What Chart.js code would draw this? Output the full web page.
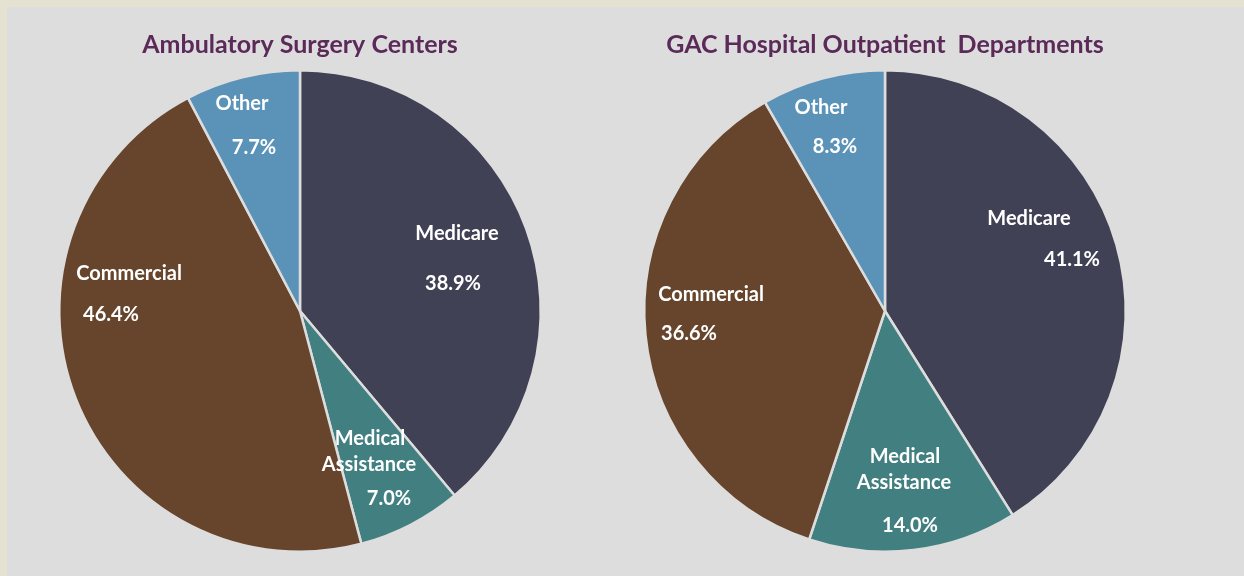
<!DOCTYPE html>
<html>
<head>
<meta charset="utf-8">
<script src="https://cdn.jsdelivr.net/npm/chart.js@4.4.1/dist/chart.umd.min.js"></script>
<style>
  html, body { margin: 0; padding: 0; background: #e5e2d1; }
  #panel { position: absolute; left: 7px; top: 7px; width: 1237px; height: 569px; background: #dddddd; }
  .box { position: absolute; top: 7px; height: 569px; }
</style>
</head>
<body>
<div id="panel"></div>
<div class="box" style="left:7px;width:586px"><canvas id="ascChart"></canvas></div>
<div class="box" style="left:593px;width:584px"><canvas id="gacChart"></canvas></div>
<script>
// payer mix, percent of total
const categories = ['Medicare', 'Medical Assistance', 'Commercial', 'Other'];
const ascValues = [38.9, 7.0, 46.4, 7.7];
const gacValues = [41.1, 14.0, 36.6, 8.3];
const titles = ['Ambulatory Surgery Centers', 'GAC Hospital Outpatient  Departments'];

const colors = ['#414155', '#417f80', '#67452c', '#5b93b8'];

// label placement relative to pie centre (name lines, then value)
const ascLabelPos = [
    { name: [157, -77], value: [153, -27] },
    { name: [70, 128], value: [89, 188] },
    { name: [-171, -37], value: [-189, 4] },
    { name: [-58, -207], value: [-46, -163] }
];
const gacLabelPos = [
    { name: [144, -92], value: [187, -51] },
    { name: [20, 146], value: [25, 215] },
    { name: [-174, -16], value: [-196, 23] },
    { name: [-64, -203], value: [-50, -164] }
];

const labelPlugin = {
    id: 'sliceLabels',
    afterDatasetsDraw(chart, args, opts) {
        const ctx = chart.ctx;
        const meta = chart.getDatasetMeta(0);
        const data = chart.data.datasets[0].data;
        ctx.save();
        ctx.fillStyle = '#ffffff';
        ctx.font = 'bold 20px Lato';
        ctx.textAlign = 'center';
        ctx.textBaseline = 'middle';
        meta.data.forEach((arc, i) => {
            const p = opts.pos[i];
            const words = chart.data.labels[i] === 'Medical Assistance' ? ['Medical', 'Assistance'] : [chart.data.labels[i]];
            words.forEach((w, k) => {
                ctx.fillText(w, arc.x + p.name[0] + (k ? -1 : 0), arc.y + p.name[1] + k * 26);
            });
            ctx.fillText(data[i].toFixed(1) + '%', arc.x + p.value[0], arc.y + p.value[1]);
        });
        ctx.restore();
    }
};

function makePie(id, values, title, pos) {
    return new Chart(document.getElementById(id), {
        type: 'pie',
        data: {
            labels: categories,
            datasets: [{
                data: values,
                backgroundColor: colors,
                borderColor: '#dddddd',
                borderWidth: 2.5
            }]
        },
        options: {
            responsive: true,
            maintainAspectRatio: false,
            animation: false,
            layout: { padding: { bottom: 23 } },
            plugins: {
                legend: { display: false },
                tooltip: { enabled: false },
                title: {
                    display: true,
                    text: title,
                    color: '#5b2a59',
                    font: { family: 'Lato', size: 25, weight: 'bold', lineHeight: 1.2 },
                    padding: { top: 23, bottom: 9 }
                },
                sliceLabels: { pos: pos }
            }
        },
        plugins: [labelPlugin]
    });
}

const ascChart = makePie('ascChart', ascValues, titles[0], ascLabelPos);
const gacChart = makePie('gacChart', gacValues, titles[1], gacLabelPos);
</script>
</body>
</html>
